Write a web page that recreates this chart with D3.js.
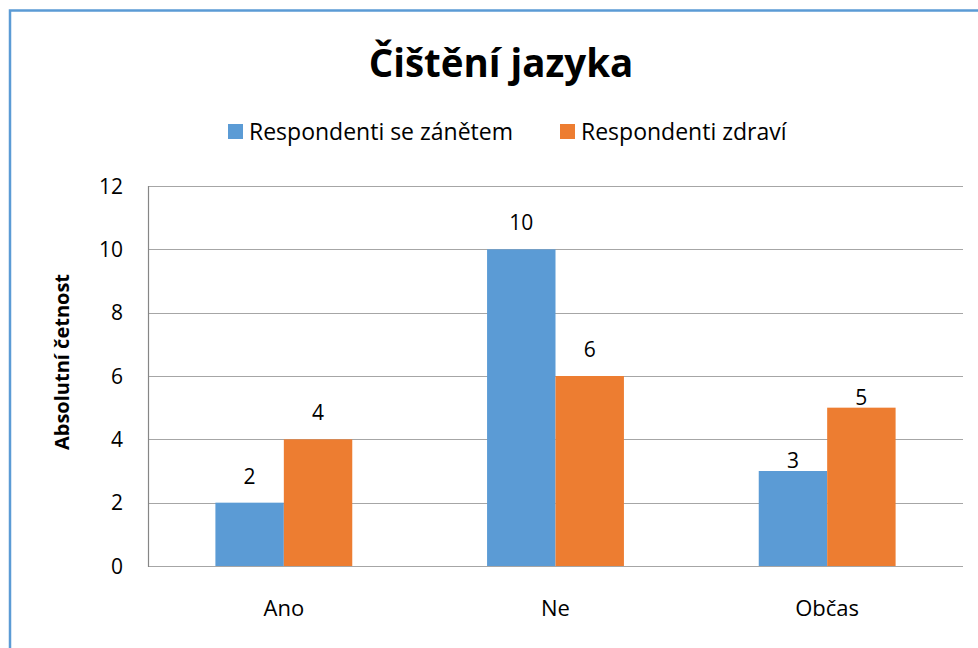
<!DOCTYPE html>
<html>
<head>
<meta charset="utf-8">
<script src="https://cdn.jsdelivr.net/npm/d3@7"></script>
<style>
  body { margin: 0; background: #fff; }
  text { font-family: "Open Sans", Lato, sans-serif; fill: #000; }
</style>
</head>
<body>
<div id="chart"></div>
<script>
const title = 'Čištění jazyka'
const yTitle = 'Absolutní četnost'
const categories = ['Ano', 'Ne', 'Občas']
const seriesNames = ['Respondenti se zánětem', 'Respondenti zdraví']
const inflamed = [2, 10, 3]
const healthy = [4, 6, 5]
const yTicks = [0, 2, 4, 6, 8, 10, 12]
const colors = ['#5b9bd5', '#ed7d31']

const width = 978
const height = 648
const plot = { left: 148, right: 963, top: 186, bottom: 566 }

const svg = d3
  .select('#chart')
  .append('svg')
  .attr('width', width)
  .attr('height', height)

// outer chart border (only top and left visible in the crop)
svg.append('rect')
  .attr('x', 10)
  .attr('y', 10.5)
  .attr('width', 1000)
  .attr('height', 700)
  .attr('fill', 'none')
  .attr('stroke', '#5b9bd5')
  .attr('stroke-width', 2.5)

const x = d3.scaleBand()
  .domain(categories)
  .range([plot.left, plot.right])

const x1 = d3.scaleBand()
  .domain(seriesNames)
  .range([0, x.bandwidth()])
  .paddingInner(0)
  .paddingOuter(0.985)

const y = d3.scaleLinear()
  .domain([0, 12])
  .range([plot.bottom, plot.top])

// gridlines
svg.append('g')
  .selectAll('line')
  .data(yTicks)
  .join('line')
  .attr('x1', plot.left)
  .attr('x2', plot.right)
  .attr('y1', (d) => Math.round(y(d)) + 0.5)
  .attr('y2', (d) => Math.round(y(d)) + 0.5)
  .attr('stroke', '#a6a6a6')
  .attr('stroke-width', 1.2)

// y axis line
svg.append('line')
  .attr('x1', plot.left + 0.5)
  .attr('x2', plot.left + 0.5)
  .attr('y1', plot.top)
  .attr('y2', plot.bottom + 1)
  .attr('stroke', '#868686')
  .attr('stroke-width', 1.2)

// y tick labels
svg.append('g')
  .selectAll('text')
  .data(yTicks)
  .join('text')
  .attr('x', 123)
  .attr('y', (d) => y(d))
  .attr('dy', '0.36em')
  .attr('text-anchor', 'end')
  .style('font-size', '21px')
  .text((d) => d)

// bars
const rows = categories.map((c, i) => ({ cat: c, values: [inflamed[i], healthy[i]] }))
// Excel label lift differs per category in the original
const labelLift = { Ano: 19, Ne: 19, Občas: 3 }

const group = svg.append('g')
  .selectAll('g')
  .data(rows)
  .join('g')
  .attr('transform', (d) => `translate(${x(d.cat)},0)`)

group.selectAll('rect')
  .data((d) => d.values.map((v, j) => ({ v, s: seriesNames[j], j, cat: d.cat })))
  .join('rect')
  .attr('x', (d) => x1(d.s))
  .attr('y', (d) => y(d.v))
  .attr('width', x1.bandwidth())
  .attr('height', (d) => y(0) - y(d.v))
  .attr('fill', (d) => colors[d.j])

group.selectAll('text')
  .data((d) => d.values.map((v, j) => ({ v, s: seriesNames[j], j, cat: d.cat })))
  .join('text')
  .attr('x', (d) => x1(d.s) + x1.bandwidth() / 2)
  .attr('y', (d) => y(d.v) - labelLift[d.cat])
  .attr('text-anchor', 'middle')
  .style('font-size', '21px')
  .text((d) => d.v)

// category labels
svg.append('g')
  .selectAll('text')
  .data(categories)
  .join('text')
  .attr('x', (d) => x(d) + x.bandwidth() / 2)
  .attr('y', 616)
  .attr('text-anchor', 'middle')
  .style('font-size', '22px')
  .text((d) => d)

// y axis title
svg.append('text')
  .attr('transform', 'translate(69,362) rotate(-90)')
  .attr('text-anchor', 'middle')
  .style('font-size', '20px')
  .style('font-weight', 'bold')
  .text(yTitle)

// title
svg.append('text')
  .attr('x', 501)
  .attr('y', 77)
  .attr('text-anchor', 'middle')
  .style('font-size', '38.5px')
  .style('font-weight', 'bold')
  .text(title)

// legend
const legendX = [228, 560]
const legend = svg.append('g')
  .selectAll('g')
  .data(seriesNames)
  .join('g')
  .attr('transform', (d, i) => `translate(${legendX[i]},124)`)

legend.append('rect')
  .attr('width', 15)
  .attr('height', 15)
  .attr('fill', (d, i) => colors[i])

legend.append('text')
  .attr('x', 21)
  .attr('y', 7.5)
  .attr('dy', '0.36em')
  .style('font-size', '23px')
  .text((d) => d)
</script>
</body>
</html>
